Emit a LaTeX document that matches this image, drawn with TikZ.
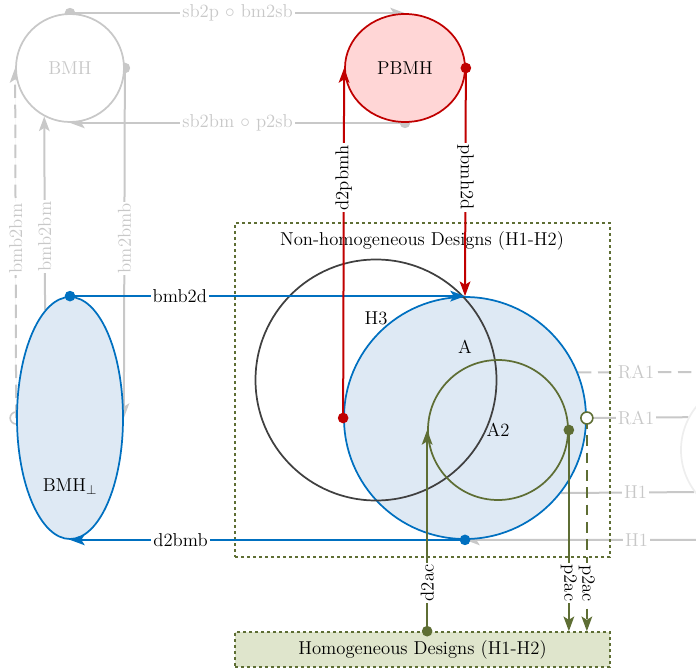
\documentclass[tikz,border=0pt]{standalone}
\usepackage{tikz}
\usetikzlibrary{shapes.geometric,arrows.meta,positioning,calc,backgrounds}
\definecolor{linkblue}{HTML}{0070C0}
\definecolor{fillblue}{HTML}{DEE9F4}
\definecolor{pbred}{HTML}{C00000}
\definecolor{fillred}{HTML}{FFD6D6}
\definecolor{designgreen}{HTML}{5E6E34}
\definecolor{fillgreen}{HTML}{DFE5CC}
\definecolor{ghost}{HTML}{C8C8C8}
\definecolor{faint}{HTML}{EEEEEE}
\definecolor{setdark}{HTML}{404040}

\begin{document}
\begin{tikzpicture}[x=0.75pt, y=-0.75pt,
    lbl/.style={font=\fontsize{14}{16}\selectfont, text=black},
    edgelbl/.style={lbl, fill=white, inner sep=1.5pt},
    ghostlbl/.style={edgelbl, text=ghost},
    setnode/.style={circle, line width=1.3pt, inner sep=0pt, lbl},
    designbox/.style={rectangle, draw=designgreen, line width=1.2pt, dash pattern=on 2.5pt off 2pt, inner sep=0pt},
    link/.style={line width=1.5pt, -{Stealth[length=11pt, width=8pt, inset=2.5pt]}},
    ghostlink/.style={link, draw=ghost, fill=ghost},
    plainghost/.style={line width=1.5pt, draw=ghost}
  ]
    \useasboundingbox (0,0) rectangle (696,670);

    % design boxes
    \node[designbox, minimum width=281.25pt, minimum height=250.5pt] (nhd) at (422.5,390) {};
    \node[lbl] (nhdtitle) at (422,241) {Non-homogeneous Designs (H1-H2)};
    \node[designbox, fill=fillgreen, minimum width=281.25pt, minimum height=26.25pt, lbl] (hd) at (422.5,649.5) {Homogeneous Designs (H1-H2)};

    % sets
    \node[setnode, draw=linkblue, fill=fillblue, minimum size=181.5pt] (setA) at (465,418) {};
    \node[setnode, draw=setdark, minimum size=180.75pt] (hthree) at (376,380) {};
    \node[setnode, draw=designgreen, minimum size=105pt] (atwo) at (498,430) {A2};
    \node[lbl] (alabel) at (465,347) {A};
    \node[lbl] (hlabel) at (376,318) {H3};

    % hierarchies
    \node[ellipse, draw=linkblue, fill=fillblue, line width=1.3pt, inner sep=0pt, minimum width=79.5pt, minimum height=181.5pt] (bmhperp) at (70,418) {};
    \node[lbl] (bmhperplabel) at (70,487) {BMH$_\perp$};
    \node[ellipse, draw=pbred, fill=fillred, line width=1.3pt, inner sep=0pt, minimum width=90pt, minimum height=81pt, lbl] (pbmh) at (405,68) {PBMH};
    \node[setnode, draw=ghost, fill=white, minimum size=81pt, text=ghost] (bmh) at (70,68) {BMH};
    \node[setnode, draw=faint, minimum size=103.5pt] (extnode) at (750,450) {};
    \coordinate (raend) at (710,372);
    \coordinate (hend) at (710,540);

    % blue links
    \draw[link, linkblue] (bmhperp.north) -- node[pos=0.278, edgelbl] (lbmbd) {bmb2d} (setA.north);
    \draw[link, linkblue] (setA.south) -- node[pos=0.72, edgelbl] (ldbmb) {d2bmb} (bmhperp.south);
    \fill[linkblue] (bmhperp.north) circle (4pt);
    \fill[linkblue] (setA.south) circle (4pt);

    % red links
    \draw[link, pbred] (setA.west) -- node[pos=0.686, edgelbl, rotate=90] (ldpbmh) {d2pbmh} (pbmh.west);
    \draw[link, pbred] (pbmh.east) -- node[pos=0.478, edgelbl, rotate=-90] (lpbmhd) {pbmh2d} (setA.north);
    \fill[pbred] (setA.west) circle (4pt);
    \fill[pbred] (pbmh.east) circle (4pt);

    % green links
    \draw[link, designgreen] (atwo.west |- hd.north) -- node[pos=0.24, edgelbl, rotate=90] (ldac) {d2ac} (atwo.west);
    \draw[link, designgreen] (atwo.east) -- node[pos=0.76, edgelbl, rotate=-90] (lpac) {p2ac} (atwo.east |- hd.north);
    \draw[link, designgreen, dash pattern=on 8pt off 5pt] (setA.east) -- node[pos=0.776, edgelbl, rotate=-90] (lpacb) {p2ac} (setA.east |- hd.north);
    \fill[designgreen] (atwo.west |- hd.north) circle (4pt);
    \fill[designgreen] (atwo.east) circle (4pt);
    \draw[designgreen, line width=1.2pt, fill=white] (setA.east) circle (4.5pt);

    % faded links
    \begin{scope}[on background layer]
      \draw[ghostlink] (bmh.north) -- node[ghostlbl, inner ysep=0pt] (lsbp) {sb2p $\circ$ bm2sb} (pbmh.north);
      \draw[ghostlink] (pbmh.south) -- node[ghostlbl] (lsbbm) {sb2bm $\circ$ p2sb} (bmh.south);
      \fill[ghost] (bmh.north) circle (4pt);
      \fill[ghost] (pbmh.south) circle (4pt);
      \draw[ghostlink, dash pattern=on 10pt off 5pt] (bmhperp.west) -- node[pos=0.513, ghostlbl, rotate=90] (lbmbbma) {bmb2bm} (bmh.west);
      \draw[ghost, line width=1.2pt] (bmhperp.west) circle (4.5pt);
      \draw[ghostlink] (bmhperp.103) -- node[pos=0.38, ghostlbl, rotate=90] (lbmbbmb) {bmb2bm} (bmh.242);
      \draw[ghostlink] (bmh.east) -- node[pos=0.487, ghostlbl, rotate=90] (lbmbmb) {bm2bmb} (bmhperp.east);
      \fill[ghost] (bmh.east) circle (4pt);
      \draw[plainghost, dash pattern=on 10pt off 5pt] (setA.22) -- node[pos=0.44, ghostlbl] (lraa) {RA1} (raend);
      \draw[plainghost] (setA.east) -- node[pos=0.485, ghostlbl] (lrab) {RA1} (extnode.152);
      \draw[plainghost] (setA.322) -- node[pos=0.56, ghostlbl] (lha) {H1} (extnode.217);
      \draw[ghostlink] (hend) -- node[pos=0.30, ghostlbl] (lhb) {H1} (setA.south);
    \end{scope}
  \end{tikzpicture}
\end{document}
